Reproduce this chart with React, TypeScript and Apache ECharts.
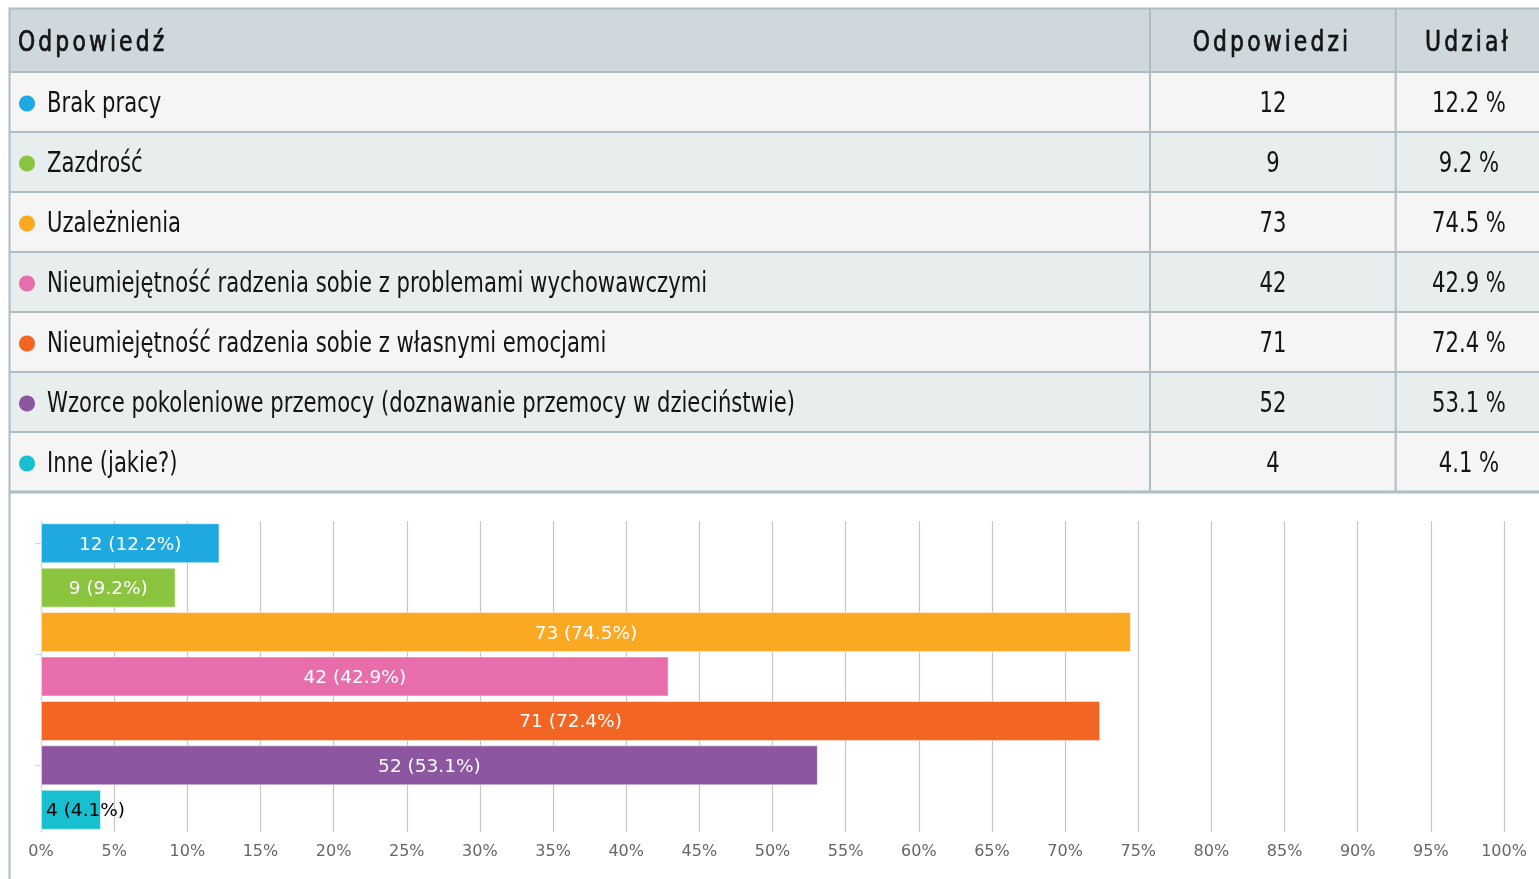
import React, { useEffect, useRef } from "react";
import * as echarts from "echarts";

const headers = ["Odpowiedź", "Odpowiedzi", "Udział"];
const categories = [
  "Brak pracy",
  "Zazdrość",
  "Uzależnienia",
  "Nieumiejętność radzenia sobie z problemami wychowawczymi",
  "Nieumiejętność radzenia sobie z własnymi emocjami",
  "Wzorce pokoleniowe przemocy (doznawanie przemocy w dzieciństwie)",
  "Inne (jakie?)",
];
const counts = [12, 9, 73, 42, 71, 52, 4];
const shares = [12.2, 9.2, 74.5, 42.9, 72.4, 53.1, 4.1];
const colors = ["#1fa9e1", "#8bc540", "#fba923", "#e76eab", "#f26522", "#8d56a0", "#18bfd0"];
const leftTickValues = [0.5, 3, 5.5];

const TABLE_FONT = "'Liberation Sans Narrow', 'DejaVu Sans Condensed', 'Roboto Condensed', 'Noto Sans', sans-serif";
const CHART_FONT = "'DejaVu Sans', Verdana, sans-serif";
const BORDER = "#adbdc4";
const NARROW = 0.84;

function buildTable() {
  const els: any[] = [];
  const W = 1560;
  els.push({ type: "rect", silent: true, shape: { x: 10, y: 8, width: W, height: 64 }, style: { fill: "#cfd8dc" } });
  categories.forEach((_, i) => {
    els.push({
      type: "rect",
      silent: true,
      shape: { x: 10, y: 72 + 60 * i, width: W, height: 60 },
      style: { fill: i % 2 === 0 ? "#f5f5f5" : "#e8edee" },
    });
  });
  els.push({ type: "line", silent: true, shape: { x1: 9, y1: 8.5, x2: W, y2: 8.5 }, style: { stroke: BORDER, lineWidth: 2 } });
  for (let k = 0; k <= categories.length; k++) {
    els.push({
      type: "line",
      silent: true,
      shape: { x1: 9, y1: 72 + 60 * k, x2: W, y2: 72 + 60 * k },
      style: { stroke: BORDER, lineWidth: k === categories.length ? 3 : 2 },
    });
  }
  els.push({ type: "line", silent: true, shape: { x1: 9.5, y1: 7.5, x2: 9.5, y2: 879 }, style: { stroke: BORDER, lineWidth: 2 } });
  [1150, 1395.7].forEach((x) => {
    els.push({ type: "line", silent: true, shape: { x1: x, y1: 8, x2: x, y2: 492 }, style: { stroke: BORDER, lineWidth: 2 } });
  });
  const headerX = [18, 1272, 1468];
  const headerAlign = ["left", "center", "center"];
  headers.forEach((h, i) => {
    els.push({
      type: "text",
      silent: true,
      x: headerX[i],
      y: 41,
      scaleX: NARROW,
      style: {
        text: h,
        fontSize: 29,
        fontFamily: TABLE_FONT,
        fill: "#141414",
        stroke: "#141414",
        lineWidth: 0.7,
        textAlign: headerAlign[i],
        textVerticalAlign: "middle",
      },
    });
  });
  categories.forEach((c, i) => {
    const cy = 102 + 60 * i;
    els.push({ type: "circle", silent: true, shape: { cx: 27, cy: cy + 1.5, r: 8 }, style: { fill: colors[i] } });
    els.push({
      type: "text",
      silent: true,
      x: 47,
      y: cy,
      scaleX: NARROW,
      style: { text: c, fontSize: 28, fontFamily: TABLE_FONT, fill: "#141414", textAlign: "left", textVerticalAlign: "middle" },
    });
    els.push({
      type: "text",
      silent: true,
      x: 1273,
      y: cy,
      scaleX: NARROW,
      style: { text: String(counts[i]), fontSize: 28, fontFamily: TABLE_FONT, fill: "#141414", textAlign: "center", textVerticalAlign: "middle" },
    });
    els.push({
      type: "text",
      silent: true,
      x: 1469,
      y: cy,
      scaleX: NARROW,
      style: { text: shares[i].toFixed(1) + " %", fontSize: 28, fontFamily: TABLE_FONT, fill: "#141414", textAlign: "center", textVerticalAlign: "middle" },
    });
  });
  return els;
}

export default function App() {
  const ref = useRef<HTMLDivElement>(null);
  useEffect(() => {
    if (!ref.current) return;
    const chart = echarts.init(ref.current, undefined, { renderer: "svg" });
    chart.setOption({
      animation: false,
      graphic: { elements: buildTable() },
      grid: { left: 41, right: 35, top: 521, bottom: 47, containLabel: false },
      xAxis: {
        type: "value",
        min: 0,
        max: 100,
        interval: 5,
        axisLine: { show: false },
        axisTick: { show: false },
        splitLine: { show: true, lineStyle: { color: "#c6c6c6", width: 1.2 } },
        axisLabel: { formatter: "{value}%", color: "#666666", fontSize: 16, fontFamily: CHART_FONT, margin: 10 },
      },
      yAxis: [
        {
          type: "category",
          data: categories,
          inverse: true,
          axisLabel: { show: false },
          axisTick: { show: false },
          axisLine: { show: true, lineStyle: { color: "#ccd6eb", width: 1 } },
        },
        {
          type: "value",
          position: "left",
          min: 0,
          max: categories.length,
          inverse: true,
          axisLine: { show: false },
          axisLabel: { show: false },
          splitLine: { show: false },
          axisTick: { show: true, length: 6, customValues: leftTickValues, lineStyle: { color: "#ccd6eb" } },
        },
      ],
      series: [
        {
          type: "bar",
          yAxisIndex: 0,
          barCategoryGap: "10%",
          itemStyle: { borderColor: "rgba(255,255,255,0.5)", borderWidth: 1 },
          label: {
            show: true,
            position: "inside",
            color: "#ffffff",
            fontSize: 18.5,
            fontFamily: CHART_FONT,
            formatter: (p: any) => `${counts[p.dataIndex]} (${shares[p.dataIndex]}%)`,
          },
          data: shares.map((v, i) => ({
            value: v,
            itemStyle: { color: colors[i] },
            label: i === shares.length - 1 ? { position: "insideLeft", distance: 5, color: "#000000" } : undefined,
          })),
        },
      ],
    });
    const applySpacing = () => {
      const texts = ref.current?.querySelectorAll("text") || [];
      texts.forEach((t: any) => {
        if (headers.includes((t.textContent || "").trim())) {
          t.style.letterSpacing = "3.7px";
        }
      });
    };
    chart.on("finished", applySpacing);
    applySpacing();
    const tm = setTimeout(applySpacing, 50);
    return () => {
      clearTimeout(tm);
      chart.dispose();
    };
  }, []);
  return <div ref={ref} style={{ position: "fixed", left: 0, top: 0, width: 1539, height: 879 }} />;
}
